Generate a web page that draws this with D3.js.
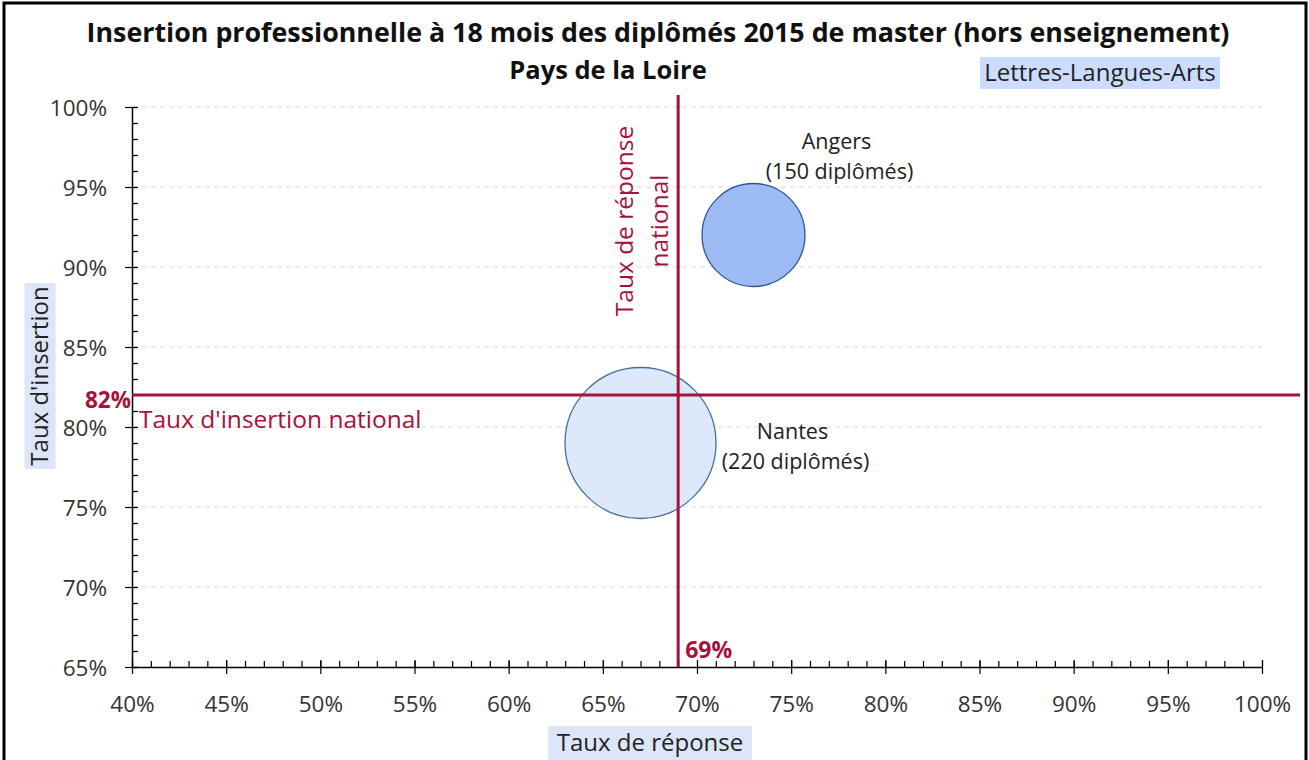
<!DOCTYPE html>
<html>
<head>
<meta charset="utf-8">
<script src="https://cdn.jsdelivr.net/npm/d3@7"></script>
<style>
  body { margin: 0; background: #fff; }
  svg { display: block; font-family: "Open Sans", "Noto Sans", sans-serif; }
</style>
</head>
<body>
<div id="chart"></div>
<script>
// data
var cities = ["Angers", "Nantes"];
var tauxReponse = [0.73, 0.67];
var tauxInsertion = [0.92, 0.79];
var diplomes = [150, 220];
var bubbleFill = ["#9dbcf6", "#dde8fb"];
var bubbleStroke = ["#2f5597", "#41719c"];
var xTicks = [0.40, 0.45, 0.50, 0.55, 0.60, 0.65, 0.70, 0.75, 0.80, 0.85, 0.90, 0.95, 1.00];
var yTicks = [0.65, 0.70, 0.75, 0.80, 0.85, 0.90, 0.95, 1.00];
var nationalReponse = 0.69;
var nationalInsertion = 0.82;

var width = 1309, height = 760;
var red = "#a6123a";

var svg = d3.select("#chart").append("svg")
    .attr("width", width).attr("height", height);

// outer frame
svg.append("rect")
    .attr("x", 4).attr("y", 3).attr("width", 1302).attr("height", 760)
    .attr("fill", "none").attr("stroke", "#000").attr("stroke-width", 3);

var xScale = d3.scaleLinear().domain([0.40, 1.00]).range([132, 1262]);
var yScale = d3.scaleLinear().domain([0.65, 1.00]).range([667, 107]);
var rScale = d3.scaleLinear().domain([0, 220]).range([0, 75.5]);
var pct = d3.format(".0%");

var minorX = d3.range(40, 101).map(function(d){ return d / 100; });
var minorY = d3.range(65, 101).map(function(d){ return d / 100; });

// gridlines
svg.append("g").selectAll("line")
    .data(yTicks.filter(function(d){ return d > 0.65; }))
    .enter().append("line")
    .attr("x1", 133).attr("x2", 1262)
    .attr("y1", function(d){ return yScale(d); })
    .attr("y2", function(d){ return yScale(d); })
    .attr("stroke", "#d9d9d9").attr("stroke-dasharray", "5,4");

// minor ticks (inside)
svg.append("g")
    .attr("transform", "translate(0,667)")
    .call(d3.axisTop(xScale).tickValues(minorX).tickSize(6).tickSizeOuter(0).tickFormat(""))
    .call(function(g){ g.select(".domain").remove(); });
svg.append("g")
    .attr("transform", "translate(132,0)")
    .call(d3.axisRight(yScale).tickValues(minorY).tickSize(6).tickSizeOuter(0).tickFormat(""))
    .call(function(g){ g.select(".domain").remove(); });

// major ticks crossing + labels
svg.append("g")
    .attr("transform", "translate(0,667)")
    .call(d3.axisTop(xScale).tickValues(xTicks).tickSize(7).tickSizeOuter(0).tickFormat(""))
    .call(function(g){ g.select(".domain").remove(); });
var xAxis = svg.append("g")
    .attr("transform", "translate(0,667)")
    .call(d3.axisBottom(xScale).tickValues(xTicks).tickSize(7).tickSizeOuter(0).tickPadding(22).tickFormat(pct));
svg.append("g")
    .attr("transform", "translate(132,0)")
    .call(d3.axisRight(yScale).tickValues(yTicks).tickSize(5).tickSizeOuter(0).tickFormat(""))
    .call(function(g){ g.select(".domain").remove(); });
var yAxis = svg.append("g")
    .attr("transform", "translate(132,0)")
    .call(d3.axisLeft(yScale).tickValues(yTicks).tickSize(7).tickSizeOuter(0).tickPadding(18).tickFormat(pct));

svg.selectAll(".tick line").attr("stroke", "#000").attr("stroke-width", 1.2);
svg.selectAll(".domain").attr("stroke", "#000").attr("stroke-width", 1.5);
svg.selectAll(".tick text")
    .attr("font-family", "'Open Sans', sans-serif")
    .attr("font-size", 22.5).attr("fill", "#333");
yAxis.selectAll(".tick text").attr("dy", "0.36em");

// bubbles (largest first)
var order = d3.range(cities.length).sort(function(a, b){ return diplomes[b] - diplomes[a]; });
svg.append("g").selectAll("circle")
    .data(order).enter().append("circle")
    .attr("cx", function(i){ return xScale(tauxReponse[i]); })
    .attr("cy", function(i){ return yScale(tauxInsertion[i]); })
    .attr("r", function(i){ return rScale(diplomes[i]); })
    .attr("fill", function(i){ return bubbleFill[i]; })
    .attr("stroke", function(i){ return bubbleStroke[i]; })
    .attr("stroke-width", 1.3);

// bubble labels
var labelOffset = [[83, -86], [152, -4]];
var lbl = svg.append("g").selectAll("text")
    .data(d3.range(cities.length)).enter().append("text")
    .attr("text-anchor", "middle")
    .attr("font-size", 21.5).attr("fill", "#222")
    .attr("x", function(i){ return xScale(tauxReponse[i]) + labelOffset[i][0]; })
    .attr("y", function(i){ return yScale(tauxInsertion[i]) + labelOffset[i][1]; });
lbl.append("tspan").text(function(i){ return cities[i]; });
lbl.append("tspan")
    .attr("x", function(i){ return xScale(tauxReponse[i]) + labelOffset[i][0] + 3; })
    .attr("dy", 30)
    .text(function(i){ return "(" + diplomes[i] + " diplômés)"; });

// national reference lines
svg.append("line")
    .attr("x1", xScale(nationalReponse)).attr("x2", xScale(nationalReponse))
    .attr("y1", 95).attr("y2", 667)
    .attr("stroke", red).attr("stroke-width", 3);
svg.append("line")
    .attr("x1", 132).attr("x2", 1300)
    .attr("y1", yScale(nationalInsertion)).attr("y2", yScale(nationalInsertion))
    .attr("stroke", red).attr("stroke-width", 3);

svg.append("text")
    .attr("x", 131).attr("y", yScale(nationalInsertion) + 13)
    .attr("text-anchor", "end").attr("font-size", 22.5).attr("font-weight", "bold")
    .attr("fill", red).text(pct(nationalInsertion));
svg.append("text")
    .attr("x", 139).attr("y", yScale(nationalInsertion) + 33)
    .attr("font-size", 24.5).attr("fill", red).text("Taux d'insertion national");
svg.append("text")
    .attr("x", xScale(nationalReponse) + 7).attr("y", 658)
    .attr("font-size", 23).attr("font-weight", "bold")
    .attr("fill", red).text(pct(nationalReponse));
var vlab = svg.append("text")
    .attr("transform", "translate(" + (xScale(nationalReponse) - 54) + ",221) rotate(-90)")
    .attr("text-anchor", "middle").attr("font-size", 24.5).attr("fill", red);
vlab.append("tspan").attr("x", 0).attr("y", 0).attr("dy", "0.35em").text("Taux de réponse");
vlab.append("tspan").attr("x", 0).attr("y", 35).attr("dy", "0.35em").text("national");

// titles
svg.append("text")
    .attr("x", 658).attr("y", 42).attr("text-anchor", "middle")
    .attr("font-size", 26.8).attr("font-weight", "bold").attr("fill", "#111")
    .text("Insertion professionnelle à 18 mois des diplômés 2015 de master (hors enseignement)");
svg.append("text")
    .attr("x", 608).attr("y", 79).attr("text-anchor", "middle")
    .attr("font-size", 25.5).attr("font-weight", "bold").attr("fill", "#111")
    .text("Pays de la Loire");

function boxedText(x, y, w, h, txt, rot, fill) {
    var g = svg.append("g").attr("transform", "translate(" + x + "," + y + ") rotate(" + rot + ")");
    g.append("rect").attr("x", -w / 2).attr("y", -h / 2).attr("width", w).attr("height", h).attr("fill", fill);
    g.append("text").attr("text-anchor", "middle").attr("dy", "0.35em")
        .attr("font-size", 24).attr("fill", "#222").text(txt);
}
boxedText(1100, 73, 240, 32, "Lettres-Langues-Arts", 0, "#ccdcff");
boxedText(40, 376, 186, 31, "Taux d'insertion", -90, "#dce6f8");
boxedText(650, 743, 204, 34, "Taux de réponse", 0, "#dce6f8");
</script>
</body>
</html>
